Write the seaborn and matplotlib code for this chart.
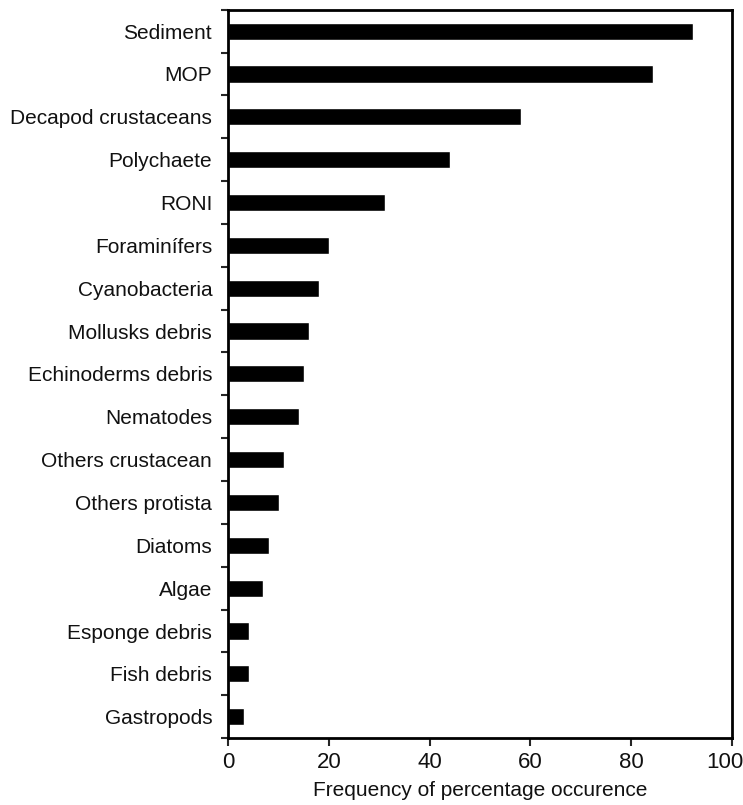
import pandas as pd
import matplotlib.pyplot as plt
import matplotlib.transforms as mtransforms
import seaborn as sns
from matplotlib.ticker import FixedLocator

# =========================
# DATA
# =========================
items = [
    "Sediment", "MOP", "Decapod crustaceans", "Polychaete", "RONI",
    "Foraminífers", "Cyanobacteria", "Mollusks debris", "Echinoderms debris",
    "Nematodes", "Others crustacean", "Others protista", "Diatoms", "Algae",
    "Esponge debris", "Fish debris", "Gastropods",
]
freq = [92.2, 84.4, 58.1, 44.1, 31.2, 20.1, 18.1, 16.1, 15.1, 14.1,
        11.0, 10.1, 8.1, 7.0, 4.2, 4.2, 3.2]
x_ticks = [0, 20, 40, 60, 80, 100]

df = pd.DataFrame({"item": items, "freq": freq})

# =========================
# PLOT
# =========================
sns.set_style("white")
plt.rcParams["font.family"] = ["Liberation Sans", "DejaVu Sans"]

fig = plt.figure(figsize=(7.43, 8.05), dpi=100)
ax = fig.add_axes([0.307, 0.083, 0.678, 0.905])

sns.barplot(data=df, x="freq", y="item", orient="h", color="black",
            width=0.4, saturation=1, ax=ax)

ax.set_xlim(0, 100)
ax.set_ylim(len(items) - 0.5, -0.5)
ax.set_xticks(x_ticks)
ax.set_xticklabels([str(t) for t in x_ticks])

# labels centred on bars, tick marks between categories
ax.yaxis.set_minor_locator(FixedLocator([i - 0.5 for i in range(len(items) + 1)]))
ax.tick_params(axis="y", which="major", length=0, pad=11.5, labelsize=15, labelcolor="#111111")
ax.tick_params(axis="y", which="minor", length=5, width=1.5, direction="out", left=True)
ax.tick_params(axis="x", which="major", length=6, width=1.5, direction="out",
               bottom=True, labelsize=16, pad=4, labelcolor="#111111")

# pull the "100" label a little inside the figure, as in the original
last = ax.get_xticklabels()[-1]
last.set_transform(last.get_transform() +
                   mtransforms.ScaledTranslation(-7 / 100, 0, fig.dpi_scale_trans))

ax.set_xlabel("Frequency of percentage occurence", fontsize=15, labelpad=6,
              color="#111111")
ax.set_ylabel("")

for side in ["left", "right", "top", "bottom"]:
    ax.spines[side].set_visible(True)
    ax.spines[side].set_color("black")
    ax.spines[side].set_linewidth(2)

plt.savefig("out.png", dpi=100)
